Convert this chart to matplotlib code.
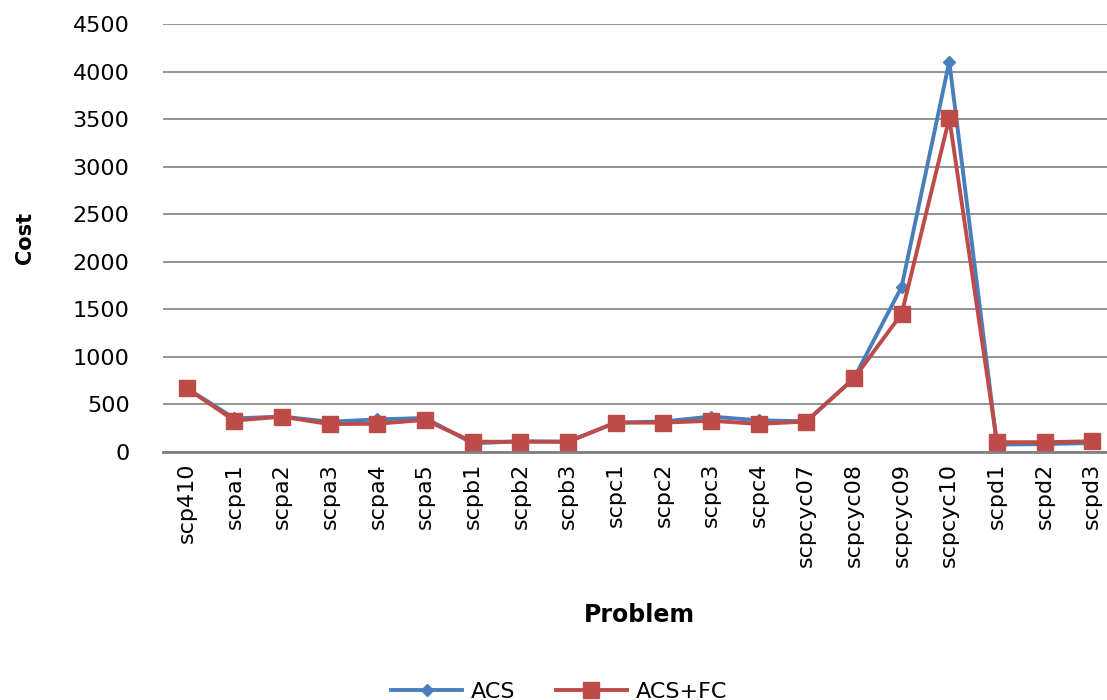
import numpy as np
import matplotlib
matplotlib.use("Agg")
from matplotlib import pyplot as plt

problems = ["scp410", "scpa1", "scpa2", "scpa3", "scpa4", "scpa5",
            "scpb1", "scpb2", "scpb3", "scpc1", "scpc2", "scpc3", "scpc4",
            "scpcyc07", "scpcyc08", "scpcyc09", "scpcyc10",
            "scpd1", "scpd2", "scpd3"]
acs = [668, 350, 370, 315, 340, 355, 88, 110, 105, 306, 318, 370, 330,
       320, 772, 1735, 4105, 75, 80, 92]
acs_fc = [668, 327, 369, 290, 295, 334, 105, 105, 105, 306, 306, 325, 293,
          317, 772, 1450, 3510, 100, 100, 110]

plt.rcParams['font.family'] = ['DejaVu Sans']
blue = '#4A7EBB'
red = '#BE4B48'
grid = '#808080'

fig = plt.figure(figsize=(11.07, 7), dpi=100)
ax = fig.add_axes([0.1472, 0.3547, 0.861, 0.611])

x = np.arange(len(problems))
ax.plot(x, acs, color=blue, lw=2.8, marker='D', ms=6, label='ACS', zorder=3)
ax.plot(x, acs_fc, color=red, lw=2.8, marker='s', ms=12, label='ACS+FC', zorder=4)

ax.set_xlim(-0.5, len(problems) - 0.5)
ax.set_ylim(0, 4500)
ax.set_yticks(np.arange(0, 4501, 500))
ax.set_xticks(x)
ax.set_xticklabels(problems, rotation=90, fontsize=16)
ax.tick_params(axis='y', length=0, pad=24, labelsize=16)
ax.tick_params(axis='x', length=0, pad=8)

ax.yaxis.grid(True, color=grid, lw=1.2)
ax.set_axisbelow(True)
for s in ['top', 'right', 'left']:
    ax.spines[s].set_visible(False)
ax.spines['bottom'].set_color(grid)
ax.spines['bottom'].set_linewidth(2)

ax.set_ylabel('Cost', fontsize=15, fontweight='bold', labelpad=27)
fig.text(0.578, 0.122, 'Problem', fontsize=17, fontweight='bold', ha='center', va='center')

fig.legend(loc='center', bbox_to_anchor=(0.505, 0.012), ncol=2, frameon=False,
           fontsize=16, handlelength=3.2, columnspacing=1.8, handletextpad=0.4)

fig.savefig('out.png', dpi=100)
